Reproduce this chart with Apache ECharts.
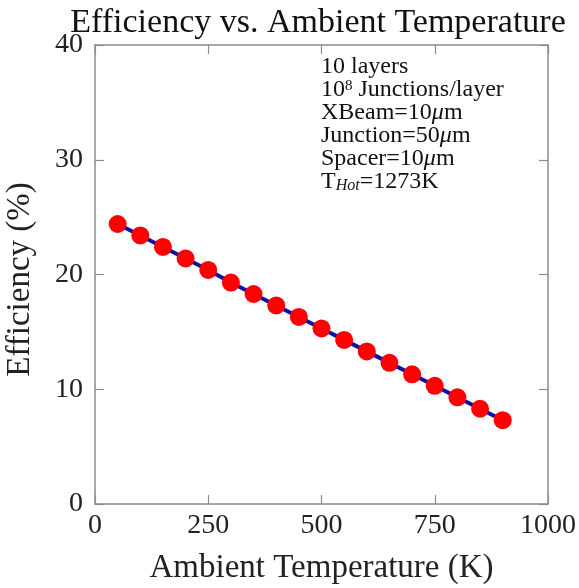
<!DOCTYPE html>
<html>
<head>
<meta charset="utf-8">
<script src="https://cdn.jsdelivr.net/npm/echarts@6/dist/echarts.min.js"></script>
<style>
  html, body { margin: 0; padding: 0; background: #fff; }
  #chart { width: 579px; height: 588px; }
</style>
</head>
<body>
<div id="chart"></div>
<script>
// Ambient temperature (K) and thermoelectric efficiency (%)
const temperatures = [50, 100, 150, 200, 250, 300, 350, 400, 450, 500, 550, 600, 650, 700, 750, 800, 850, 900];
const efficiency = [24.4, 23.4, 22.4, 21.4, 20.4, 19.3, 18.3, 17.3, 16.3, 15.3, 14.3, 13.3, 12.3, 11.3, 10.3, 9.3, 8.3, 7.3];
const xTicks = [0, 250, 500, 750, 1000];
const yTicks = [0, 10, 20, 30, 40];

const serif = 'Liberation Serif, DejaVu Serif, serif';
const axisGray = '#8c8c8c';

const chart = echarts.init(document.getElementById('chart'));

// box frame with inward ticks on every side
const tickAxis = {
  axisLine: { show: true, onZero: false, lineStyle: { color: axisGray, width: 1.5 } },
  axisTick: { show: true, inside: true, length: 9, lineStyle: { color: axisGray, width: 1.2 } },
  splitLine: { show: false }
};

chart.setOption({
  backgroundColor: '#fff',
  animation: false,
  title: {
    text: 'Efficiency vs. Ambient Temperature',
    left: 313, top: 1, textAlign: 'center',
    textStyle: { fontFamily: serif, fontWeight: 'normal', fontSize: 34, color: '#111' }
  },
  grid: { left: 95, right: 31, top: 45, bottom: 84, outerBoundsMode: 'none', containLabel: false },
  xAxis: [
    Object.assign({
      type: 'value', min: 0, max: 1000, interval: 250,
      name: 'Ambient Temperature (K)', nameLocation: 'middle', nameGap: 48,
      nameTextStyle: { fontFamily: serif, fontSize: 33, color: '#222' },
      axisLabel: { fontFamily: serif, fontSize: 28, color: '#222', margin: 8,
        formatter: v => xTicks.includes(v) ? String(v) : '' }
    }, tickAxis),
    Object.assign({
      type: 'value', min: 0, max: 1000, interval: 250, position: 'top',
      axisLabel: { show: false }
    }, tickAxis)
  ],
  yAxis: [
    Object.assign({
      type: 'value', min: 0, max: 40, interval: 10,
      name: 'Efficiency (%)', nameLocation: 'middle', nameGap: 58,
      nameTextStyle: { fontFamily: serif, fontSize: 33, color: '#222', padding: [0, 10, 0, 0] },
      axisLabel: { fontFamily: serif, fontSize: 28, color: '#222', margin: 12,
        formatter: v => yTicks.includes(v) ? String(v) : '' }
    }, tickAxis),
    Object.assign({
      type: 'value', min: 0, max: 40, interval: 10, position: 'right',
      axisLabel: { show: false }
    }, tickAxis)
  ],
  series: [{
    type: 'line',
    data: temperatures.map((t, i) => [t, efficiency[i]]),
    lineStyle: { color: '#1010a8', width: 4 },
    symbol: 'circle',
    symbolSize: 18,
    itemStyle: { color: '#ff0000', borderWidth: 0 },
    z: 3
  }],
  graphic: [{
    type: 'text',
    left: 321, top: 55,
    style: {
      text: [
        '10 layers',
        '10{sup|8} Junctions/layer',
        'XBeam=10{it|μ}m',
        'Junction=50{it|μ}m',
        'Spacer=10{it|μ}m',
        'T{sub|Hot}=1273K'
      ].join('\n'),
      fontFamily: serif, fontSize: 24, lineHeight: 23, fill: '#111',
      rich: {
        sup: { fontFamily: serif, fontSize: 15, verticalAlign: 'top', padding: [0, 0, 10, 0], fill: '#111' },
        it: { fontFamily: serif, fontSize: 24, fontStyle: 'italic', fill: '#111' },
        sub: { fontFamily: serif, fontSize: 16, fontStyle: 'italic', padding: [8, 0, 0, 0], fill: '#111' }
      }
    }
  }]
});
</script>
</body>
</html>
